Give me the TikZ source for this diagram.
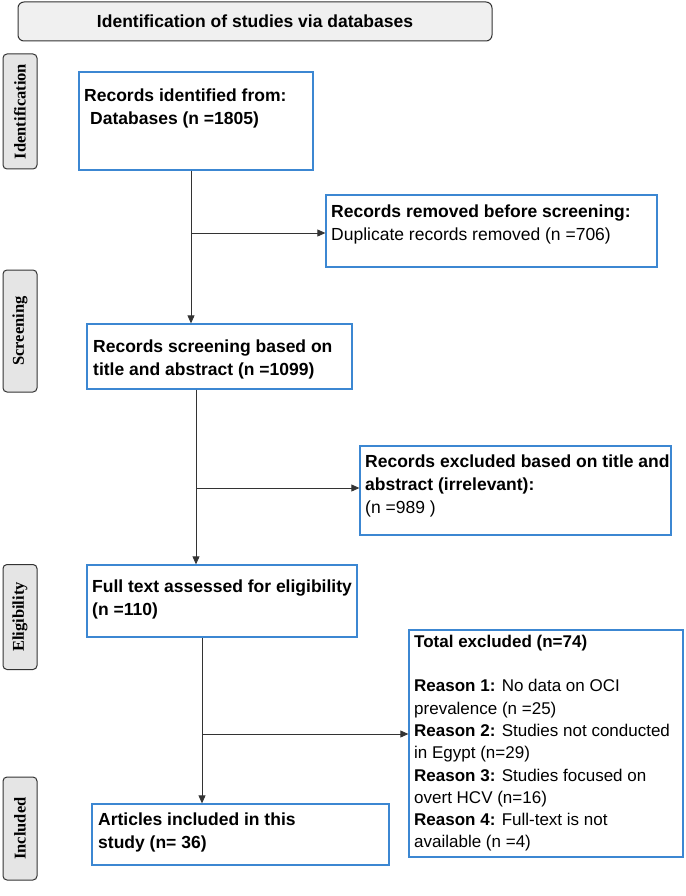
\documentclass[tikz,border=0pt]{standalone}
\usepackage{fontspec}
\setmainfont{Liberation Sans}
\newfontfamily\serifb{Liberation Serif}
\usetikzlibrary{arrows.meta}
\definecolor{bxc}{RGB}{60,135,210}
\begin{document}
\begin{tikzpicture}[x=1pt,y=-1pt,
 bx/.style={draw=bxc,line width=1.3pt,inner sep=0},
 side/.style={draw=black!80,line width=1pt,fill=black!10,rounded corners=4pt,inner sep=0},
 sidet/.style={rotate=90,font=\serifb\bfseries\fontsize{16.5}{18}\selectfont},
 tx/.style={anchor=north west,align=left,inner sep=0,font=\fontsize{17.5}{23}\selectfont\bfseries},
 ln/.style={draw=black!80,line width=0.8pt},
 ar/.style={ln,-{Triangle[length=8pt,width=7pt]}}]
\useasboundingbox (0,0) rectangle (685,896);
\node[side,minimum width=474,minimum height=39,rounded corners=6pt,fill=black!6] (hdr) at (255,21.5) {};
\node[font=\bfseries\fontsize{17.5}{20}\selectfont] (hdrt) at (hdr) {Identification of studies via databases};
% side labels
\node[side,minimum width=34,minimum height=115] (s1) at (20,111.5) {};
\node[sidet] (s1t) at (s1) {Identification};
\node[side,minimum width=34,minimum height=122] (s2) at (20,331) {};
\node[sidet] (s2t) at (s2) {Screening};
\node[side,minimum width=34,minimum height=105] (s3) at (20,617) {};
\node[sidet] (s3t) at (s3) {Eligibility};
\node[side,minimum width=34,minimum height=103] (s4) at (20,828.5) {};
\node[sidet] (s4t) at (s4) {Included};
% boxes
\node[bx,minimum width=234,minimum height=98] (b1) at (196,121) {};
\node[tx] (b1t) at (84,89) {Records identified from:\\\hspace{6pt}Databases (n =1805)};
\node[bx,minimum width=331,minimum height=72] (b2) at (491.5,231) {};
\node[tx] (b2t) at (331,205) {Records removed before screening:\\\mdseries Duplicate records removed (n =706)};
\node[bx,minimum width=265,minimum height=65] (b3) at (219.5,356.5) {};
\node[tx] (b3t) at (93,340) {Records screening based on\\title and abstract (n =1099)};
\node[bx,minimum width=311,minimum height=89] (b4) at (515.5,490.5) {};
\node[tx] (b4t) at (365,455) {Records excluded based on title and\\abstract (irrelevant):\\\mdseries (n =989 )};
\node[bx,minimum width=270,minimum height=72] (b5) at (222,601) {};
\node[tx] (b5t) at (92,580) {Full text assessed for eligibility\\(n =110)};
\node[bx,minimum width=274,minimum height=227] (b6) at (546,743.5) {};
\node[tx,font=\fontsize{17}{22.3}\selectfont] (b6t) at (414,635) {\textbf{Total excluded (n=74)}\\[22pt]\textbf{Reason 1:} No data on OCI\\prevalence (n =25)\\\textbf{Reason 2:} Studies not conducted\\in Egypt (n=29)\\\textbf{Reason 3:} Studies focused on\\overt HCV (n=16)\\\textbf{Reason 4:} Full-text is not\\available (n =4)};
\node[bx,minimum width=297,minimum height=61] (b7) at (240.5,834.5) {};
\node[tx] (b7t) at (98,813) {Articles included in this\\study (n= 36)};
% connectors
\coordinate (j1) at (191,233);
\coordinate (j2) at (196,488);
\coordinate (j3) at (202,734);
\draw[ar] (b1.south -| j1) -- (b3.north -| j1);
\draw[ar] (j1) -- (j1 -| b2.west);
\draw[ar] (b3.south -| j2) -- (b5.north -| j2);
\draw[ar] (j2) -- (j2 -| b4.west);
\draw[ar] (b5.south -| j3) -- (b7.north -| j3);
\draw[ar] (j3) -- (j3 -| b6.west);
\end{tikzpicture}
\end{document}
